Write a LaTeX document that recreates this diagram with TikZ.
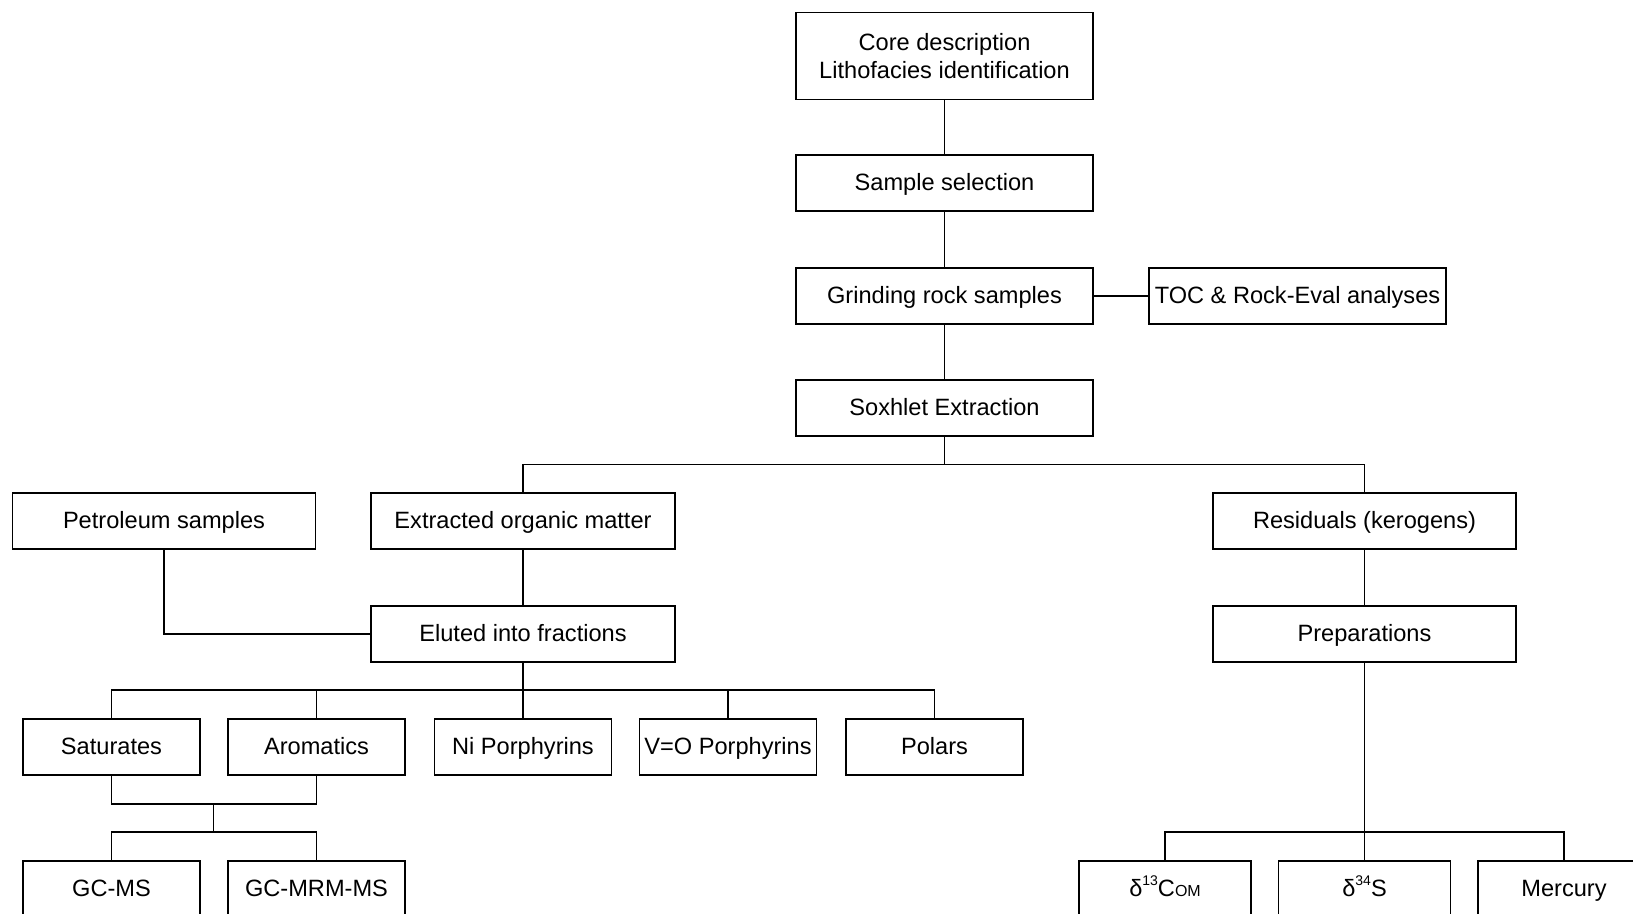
\documentclass[tikz,border=0pt]{standalone}
\usepackage{fontspec}
\setmainfont{Liberation Sans}
\usepackage{tikz}

\begin{document}
\begin{tikzpicture}[x=0.5pt, y=-0.5pt, line width=0.9pt]
		\tikzstyle{frame}=[draw, minimum width=148.5pt, minimum height=28pt, inner sep=1pt, font=\fontsize{11.8}{14}\selectfont];
		\tikzstyle{box}=[frame, text height=0.86em, text depth=0.1em];
		\tikzstyle{small}=[box, minimum width=88.5pt];
		\tikzstyle{iso}=[box, minimum width=86pt];
		\useasboundingbox (0,0) rectangle (1633,914);

		% main line
		\node[frame, minimum height=43.5pt, align=center] (core) at (944.5,56) {Core description\\Lithofacies identification};
		\node[box] (sample) at (944.5,183) {Sample selection};
		\node[box] (grind) at (944.5,296) {Grinding rock samples};
		\node[box] (toc) at (1297.5,296) {TOC \& Rock-Eval analyses};
		\node[box] (sox) at (944.5,408) {Soxhlet Extraction};

		% extracts and residuals
		\node[box, minimum width=151.5pt] (petro) at (164,521) {Petroleum samples};
		\node[box, minimum width=152pt] (eom) at (523,521) {Extracted organic matter};
		\node[box, minimum width=151.5pt] (resid) at (1364.5,521) {Residuals (kerogens)};
		\node[box, minimum width=152pt] (elut) at (523,634) {Eluted into fractions};
		\node[box, minimum width=151.5pt] (prep) at (1364.5,634) {Preparations};

		% fractions
		\node[small] (sat) at (111.5,747) {Saturates};
		\node[small] (aro) at (316.5,747) {Aromatics};
		\node[small] (ni) at (523,747) {Ni Porphyrins};
		\node[small] (vo) at (728,747) {V=O Porphyrins};
		\node[small] (pol) at (934.5,747) {Polars};
		\node[small] (gcms) at (111.5,889) {GC-MS};
		\node[small] (gcmrm) at (316.5,889) {GC-MRM-MS};

		% kerogen analyses
		\node[iso] (d13c) at (1165,889) {δ\raisebox{0.45em}{\fontsize{7}{7}\selectfont 13}C{\fontsize{8}{8}\selectfont OM}};
		\node[iso] (d34s) at (1364.5,889) {δ\raisebox{0.45em}{\fontsize{7}{7}\selectfont 34}S};
		\node[iso] (hg) at (1564,889) {Mercury};

		\coordinate (j1) at (944.5,464.5);
		\coordinate (j2) at (523,690);
		\coordinate (j3) at (213.5,804);
		\coordinate (j4) at (213.5,832);
		\coordinate (j5) at (1364.5,832);

		\draw (core) -- (sample) -- (grind) -- (sox);
		\draw (grind) -- (toc);
		\draw (sox) -- (j1);
		\draw (eom) |- (j1) -| (resid);
		\draw (eom) -- (elut);
		\draw (resid) -- (prep);
		\draw (petro) |- (elut);
		\draw (sat) |- (j2) -| (pol);
		\foreach \n in {aro,vo}
			\draw (\n) -- (\n |- j2);
		\draw (elut) -- (ni);
		\draw (sat) |- (j3) -| (aro);
		\draw (j3) -- (j4);
		\draw (gcms) |- (j4) -| (gcmrm);
		\draw (prep) -- (d34s);
		\draw (d13c) |- (j5) -| (hg);
	\end{tikzpicture}
\end{document}
